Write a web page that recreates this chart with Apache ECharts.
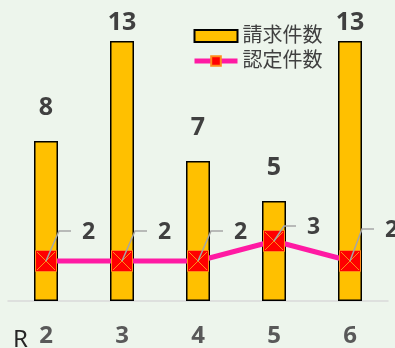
<!DOCTYPE html>
<html><head><meta charset="utf-8">
<script src="https://cdn.jsdelivr.net/npm/echarts@6/dist/echarts.min.js"></script>
<style>html,body{margin:0;padding:0;background:#EDF5EC}#c{width:395px;height:348px}</style>
</head><body><div id="c"></div>
<script>
const categories = ['2', '3', '4', '5', '6'];
const claimName = '請求件数';
const approvedName = '認定件数';
const claims = [8, 13, 7, 5, 13];
const approved = [2, 2, 2, 3, 2];
const prefix = 'R';

const font = '"Noto Sans", "Noto Sans CJK JP", sans-serif';
const leader = [[13, -30], [13, -30], [13, -30], [10, -15], [12, -32]];

const chart = echarts.init(document.getElementById('c'));
chart.setOption({
  backgroundColor: '#EDF5EC',
  animation: false,
  title: { text: prefix, left: 8, top: 323, textStyle: { fontFamily: font, fontSize: 24, fontWeight: 'normal', color: '#262626' } },
  legend: {
    left: 187, top: 21, orient: 'vertical', itemWidth: 43, itemHeight: 12, itemGap: 5,
    textStyle: { fontFamily: font, fontSize: 20, color: '#404040' },
    data: [
      { name: claimName, icon: 'rect' },
      { name: approvedName, lineStyle: { width: 5 } }
    ]
  },
  grid: { left: 8, right: 7, top: 1, bottom: 47, containLabel: false, outerBoundsMode: 'none' },
  xAxis: {
    type: 'category', data: categories,
    axisLine: { lineStyle: { color: '#D9D9D9', width: 1.5 } },
    axisTick: { show: false },
    axisLabel: { fontFamily: font, fontSize: 24, fontWeight: 'bold', color: '#595959', margin: 23 }
  },
  yAxis: { type: 'value', min: 0, max: 15, show: false, splitLine: { show: false } },
  series: [
    {
      name: claimName, type: 'bar', barWidth: 24,
      data: claims.map(v => ({ value: v, label: { distance: v >= 13 ? 6 : 21 } })),
      itemStyle: { color: '#FFC000', borderColor: '#000', borderWidth: 1.5 },
      label: { show: true, position: 'top', fontFamily: font, fontSize: 25, fontWeight: 'bold', color: '#404040' }
    },
    {
      name: approvedName, type: 'line', data: approved,
      symbol: 'rect', symbolSize: 21,
      lineStyle: { color: '#FF1AA3', width: 5 },
      itemStyle: { color: '#FF0000', borderColor: '#FF8C1A', borderWidth: 1 },
      z: 3
    },
    {
      type: 'custom', data: approved.map((v, i) => [i, v]), z: 5, silent: true,
      encode: { x: 0, y: 1 },
      renderItem: function (params, api) {
        const i = params.dataIndex;
        const v = api.value(1);
        const p = api.coord([api.value(0), v]);
        const d = leader[i];
        const h = 9;
        return {
          type: 'group', children: [
            { type: 'line', shape: { x1: p[0] - h, y1: p[1] - h, x2: p[0] + h, y2: p[1] + h }, style: { stroke: '#FF8C1A', lineWidth: 1 } },
            { type: 'line', shape: { x1: p[0] - h, y1: p[1] + h, x2: p[0] + h, y2: p[1] - h }, style: { stroke: '#FF8C1A', lineWidth: 1 } },
            { type: 'polyline', shape: { points: [p, [p[0] + d[0], p[1] + d[1]], [p[0] + d[0] + 12, p[1] + d[1]]] }, style: { stroke: '#A6A6A6', lineWidth: 1.5, fill: null } },
            { type: 'text', style: { text: String(v), x: p[0] + d[0] + 23, y: p[1] + d[1] + 1, verticalAlign: 'middle', align: 'left', font: 'bold 23px ' + font, fill: '#404040' } }
          ]
        };
      }
    }
  ]
});
</script></body></html>
